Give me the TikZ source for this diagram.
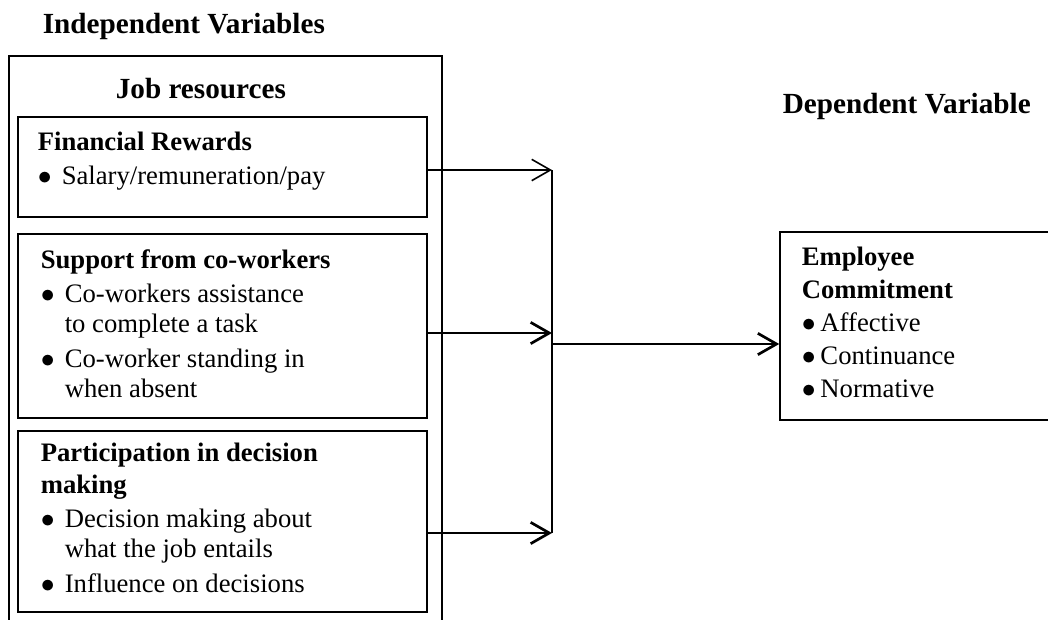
\documentclass[tikz,border=0pt]{standalone}
\usepackage{fontspec}
\setmainfont{Liberation Serif}
\usetikzlibrary{arrows.meta}
\newcommand\bitem[1]{\makebox[18pt][l]{$\bullet$}#1}
\newcommand\bcont[1]{\hspace*{18pt}#1}
\newcommand\eitem[1]{\makebox[14pt][l]{$\bullet$}#1}
\begin{document}
\begin{tikzpicture}[x=.75pt, y=-.75pt, line width=1.2pt,
    >={Straight Barb[length=14pt,width=16pt]},
    box/.style={draw, rectangle, minimum width=306.75pt, inner sep=0pt},
    txt/.style={anchor=base west, inner sep=0pt, font=\fontsize{20}{22.5}\selectfont},
    ttl/.style={anchor=base west, inner sep=0pt, font=\fontsize{21.9}{26}\selectfont\bfseries},
    heavy/.style={line width=2pt}]
  \clip (0,0) rectangle (1048,619);
  % titles
  \node[ttl] (indep) at (42,33) {Independent Variables};
  \node[ttl] (dep) at (782,113) {Dependent Variable};
  % outer frame, open at the bottom
  \node[draw, anchor=north west, minimum width=324.75pt, minimum height=460pt] (iv) at (8,55) {};
  \node[ttl] (jobres) at (115,98) {Job resources};
  % boxes
  \node[box, minimum height=75pt] (fin) at (222.5,167) {};
  \node[box, minimum height=138pt] (sup) at (222.5,326) {};
  \node[box, minimum height=135.75pt] (par) at (222.5,521.5) {};
  \node[box, minimum width=255pt, minimum height=141pt] (emp) at (950,326) {};
  % box texts
  \node[txt] (finT) at (37,150) {\begin{tabular}[t]{@{}l@{}}
      \textbf{Financial Rewards}\\[3pt]
      \bitem{Salary/remuneration/pay}\end{tabular}};
  \node[txt] (supT) at (40,268) {\begin{tabular}[t]{@{}l@{}}
      \textbf{Support from co-workers}\\[3pt]
      \bitem{Co-workers assistance}\\
      \bcont{to complete a task}\\[3.75pt]
      \bitem{Co-worker standing in}\\
      \bcont{when absent}\end{tabular}};
  \node[txt] (parT) at (40,461) {\begin{tabular}[t]{@{}l@{}}
      \textbf{Participation in decision}\\[1.5pt]
      \textbf{making}\\[3pt]
      \bitem{Decision making about}\\
      \bcont{what the job entails}\\[3.75pt]
      \bitem{Influence on decisions}\end{tabular}};
  \node[txt] (empT) at (801,265) {\begin{tabular}[t]{@{}l@{}}
      \textbf{Employee}\\[2.25pt]
      \textbf{Commitment}\\[2.25pt]
      \eitem{Affective}\\[2.25pt]
      \eitem{Continuance}\\[2.25pt]
      \eitem{Normative}\end{tabular}};
  % connectors
  \coordinate (b1) at (552,170);
  \coordinate (b2) at (552,333);
  \coordinate (b3) at (552,533);
  \coordinate (m) at (552,344);
  \draw[->] (fin.east |- b1) -- (b1);
  \draw[->,heavy] (sup.east |- b2) -- (b2);
  \draw[->,heavy] (par.east |- b3) -- (b3);
  \draw (b1) -- (b3);
  \draw[->,heavy] (m) -- (emp.west |- m);
\end{tikzpicture}
\end{document}
